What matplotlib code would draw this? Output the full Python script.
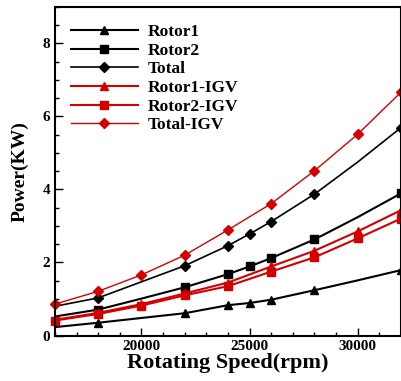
import numpy as np
import matplotlib
matplotlib.use("Agg")
import matplotlib.pyplot as plt
from matplotlib.ticker import MultipleLocator

# rotating speed (rpm)
speed = [16000, 18000, 20000, 22000, 24000, 25000, 26000, 28000, 30000, 32000]
speed_igv = [16000, 18000, 20000, 22000, 24000, 26000, 28000, 30000, 32000]

# power (KW)
rotor1 = [0.23, 0.35, 0.48, 0.61, 0.83, 0.89, 0.98, 1.24, 1.51, 1.79]
rotor2 = [0.52, 0.71, 1.01, 1.32, 1.68, 1.89, 2.12, 2.63, 3.24, 3.89]
total = [0.80, 1.03, 1.47, 1.91, 2.46, 2.78, 3.12, 3.87, 4.75, 5.69]

rotor1_igv = [0.43, 0.62, 0.86, 1.15, 1.45, 1.89, 2.32, 2.85, 3.43]
rotor2_igv = [0.41, 0.59, 0.82, 1.10, 1.35, 1.75, 2.14, 2.66, 3.20]
total_igv = [0.86, 1.21, 1.66, 2.20, 2.89, 3.61, 4.51, 5.51, 6.66]

# black series only show markers at these points
black_marks = [1, 3, 4, 5, 6, 7, 9]

red = '#d40000'
plt.rcParams['font.family'] = 'Liberation Serif'
plt.rcParams['font.weight'] = 'bold'

fig = plt.figure(figsize=(4.02, 3.81), dpi=100)
ax = fig.add_axes([0.1368, 0.1194, 0.8607, 0.863])

ax.plot(speed, rotor1, color='black', lw=1.5, marker='^', ms=6,
        markevery=black_marks, label='Rotor1')
ax.plot(speed, rotor2, color='black', lw=1.5, marker='s', ms=5.3,
        markevery=black_marks, label='Rotor2')
ax.plot(speed, total, color='black', lw=1.2, marker='D', ms=5.5,
        markevery=black_marks, label='Total')
ax.plot(speed_igv, rotor1_igv, color=red, lw=1.5, marker='^', ms=6,
        clip_on=False, label='Rotor1-IGV')
ax.plot(speed_igv, rotor2_igv, color=red, lw=1.5, marker='s', ms=5.3,
        clip_on=False, label='Rotor2-IGV')
ax.plot(speed_igv, total_igv, color=red, lw=1.0, marker='D', ms=5.5,
        clip_on=False, label='Total-IGV')

ax.set_xlim(16000, 32000)
ax.set_ylim(0, 9)
ax.xaxis.set_major_locator(MultipleLocator(5000))
ax.xaxis.set_minor_locator(MultipleLocator(1000))
ax.yaxis.set_major_locator(MultipleLocator(2))
ax.yaxis.set_minor_locator(MultipleLocator(0.5))
ax.tick_params(which='both', direction='in', width=1.0, labelsize=11)
ax.tick_params(which='major', length=6)
ax.tick_params(which='minor', length=3)
for s in ax.spines.values():
    s.set_linewidth(1.5)

ax.set_xlabel('Rotating Speed(rpm)', fontsize=16, fontweight='bold', labelpad=0)
ax.set_ylabel('Power(KW)', fontsize=14, fontweight='bold', labelpad=10)

ax.legend(loc='upper left', bbox_to_anchor=(0.046, 0.947), frameon=False,
          fontsize=12.5, handlelength=3.85, handletextpad=0.57,
          labelspacing=0.14, borderaxespad=0, borderpad=0)

fig.savefig('out.png', dpi=100)
